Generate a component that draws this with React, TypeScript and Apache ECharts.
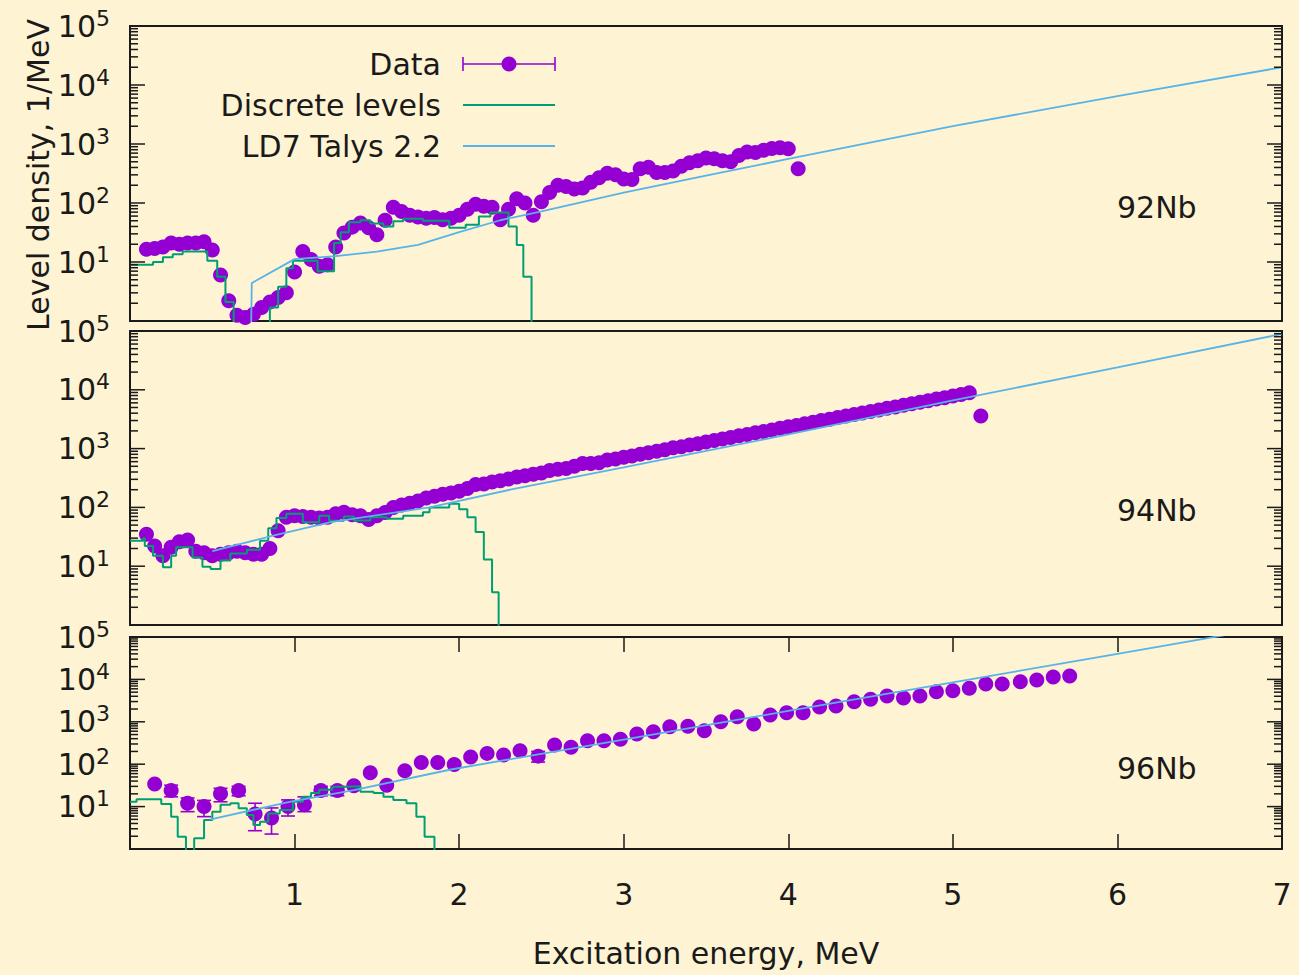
import React, { useEffect, useRef } from 'react';
import * as echarts from 'echarts';

// ---------- 92Nb ----------
const e92 = [0.10,0.15,0.20,0.25,0.30,0.35,0.40,0.45,0.50,0.55,0.60,0.65,0.70,0.75,0.80,0.85,0.90,0.95,1.00,1.05,1.10,1.15,1.20,1.25,1.30,1.35,1.40,1.45,1.50,1.55,1.60,1.65,1.70,1.75,1.80,1.85,1.90,1.95,2.00,2.05,2.10,2.15,2.20,2.25,2.30,2.35,2.40,2.45,2.50,2.55,2.60,2.65,2.70,2.75,2.80,2.85,2.90,2.95,3.00,3.05,3.10,3.15,3.20,3.25,3.30,3.35,3.40,3.45,3.50,3.55,3.60,3.65,3.70,3.75,3.80,3.85,3.90,3.95,4.00,4.06];
const v92 = [16.5,17,18,21,20,21,21,22,16,6, 2.2,1.25,1.15,1.3,1.7,2.1,2.5,3.0,6.8,15, 11,8.5,9,18,31,39,46,38,29,51, 85,72,62,58,55,57,52,55,62,78, 95,88,85,52,78,118,100,62,105,150, 200,190,172,180,225,268,320,300,255,250, 380,405,330,330,350,420,480,520,580,560, 520,500,640,730,720,780,840,860,830,380];
const g92E = [0,0.14,0.20,0.26,0.32,0.47,0.53,0.58,0.63,0.85,0.90,0.95,0.99,1.14,1.24,1.28,1.33,1.40,1.46,1.54,1.60,1.66,1.78,1.94,2.04,2.12,2.19,2.30,2.35,2.39,2.44];
const g92V = [9,10,12,13.5,15,10.5,5.6,2.1,0.5,1.7,3.8,7.8,10.5,7,21,32,47,51,45,40,49,54,50,38,43,59,69,40,19.5,5.6,0.5];
const b92E = [0.735,0.74,1.0,1.25,1.5,1.75,2.0,2.25,2.5,3.0,3.5,4.0,5.0,6.0,7.0];
const b92V = [0.5,4.4,11.2,12.6,15,19.5,32,51,72,150,290,560,2000,6500,20000];

// ---------- 94Nb ----------
const e94 = [0.10,0.15,0.20,0.25,0.30,0.35,0.40,0.45,0.50,0.55,0.60,0.65,0.70,0.75,0.80,0.85,0.90,0.95,1.00,1.05,1.10,1.15,1.20,1.25,1.30,1.35,1.40,1.45,1.50,1.55,1.60,1.65,1.70,1.75,1.80,1.85,1.90,1.95,2.00,2.05,2.10,2.15,2.20,2.25,2.30,2.35,2.40,2.45,2.50,2.55,2.60,2.65,2.70,2.75,2.80,2.85,2.90,2.95,3.00,3.05,3.10,3.15,3.20,3.25,3.30,3.35,3.40,3.45,3.50,3.55,3.60,3.65,3.70,3.75,3.80,3.85,3.90,3.95,4.00,4.05,4.10,4.15,4.20,4.25,4.30,4.35,4.40,4.45,4.50,4.55,4.60,4.65,4.70,4.75,4.80,4.85,4.90,4.95,5.00,5.05,5.10,5.17];
const v94 = [35,22,15,21,26,28,18,17,15,16, 17,18,17,16,16,20,40,68,72,70, 68,66,68,78,83,75,72,62,72,82, 100,110,118,128,145,155,168,175,188,210, 245,250,270,285,305,330,345,365,385,425, 445,460,500,560,560,575,640,665,715,745, 800,850,900,960,1030,1070,1150,1210,1300,1370, 1460,1540,1650,1730,1860,1960,2080,2210,2350,2480, 2650,2810,3000,3170,3380,3580,3800,4030,4280,4540, 4850,5120,5450,5780,6150,6500,6950,7350,7850,8300, 8900,3600];
const g94E = [0,0.08,0.09,0.14,0.20,0.25,0.28,0.38,0.44,0.49,0.55,0.61,0.71,0.79,0.84,0.89,0.95,1.05,1.15,1.21,1.30,1.36,1.46,1.56,1.66,1.78,1.82,1.94,2.00,2.05,2.10,2.15,2.20,2.24];
const g94V = [27,30,22,15,9.6,15,21,14,9.8,9,12.5,16.5,19,27,44,66,78,56,72,59,70,60,68,64,72,83,100,115,93,68,38,13,3.6,0.5];
const b94E = [0.5,0.85,1.22,1.82,2.31,3.0,4.0,5.0,6.0,7.0];
const b94V = [18,32,56,100,200,480,1740,6600,24000,89000];

// ---------- 96Nb ----------
const e96 = [0.15,0.25,0.35,0.45,0.55,0.66,0.76,0.86,0.96,1.06, 1.16,1.26,1.36,1.46,1.56,1.67,1.77,1.87,1.97,2.07, 2.17,2.27,2.37,2.48,2.58,2.68,2.78,2.88,2.98,3.08, 3.18,3.28,3.39,3.49,3.59,3.69,3.79,3.89,3.99,4.09, 4.19,4.29,4.40,4.50,4.60,4.70,4.80,4.90,5.00,5.10, 5.20,5.30,5.41,5.51,5.61,5.71];
const v96 = [34,24,12,10,20,24,6.7,5.4,10,11, 24,24,31,63,32,70,109,109,98,148, 180,165,209,155,282,250,357,357,390,515, 585,765,790,615,1000,1310,890,1450,1630,1630, 2240,2350,2960,3400,4070,3640,4070,5130,5400,6200, 7800,7800,8850,9700,11400,12000];
const errE96 = [0.25,0.35,0.45,0.55,0.66,0.76,0.86,0.96,1.06,1.16,1.26,2.48];
const errLo96 = [17,7.6,5.8,13,18,2.7,2.25,6,7.6,18,18,112];
const errHi96 = [32,16,14,27,30,12,9.3,14.4,17,30,30,200];
const g96E = [0,0.04,0.19,0.25,0.29,0.34,0.39,0.45,0.50,0.55,0.61,0.66,0.71,0.75,0.79,0.84,0.91,0.99,1.05,1.10,1.15,1.23,1.31,1.40,1.48,1.54,1.60,1.68,1.74,1.79,1.85];
const g96V = [13,15,11.5,5.8,1.95,0.5,1.8,4.8,7.6,11,12,9.1,6.3,3.7,4.4,6.9,8.3,13,17,21,25,29.5,30,22.5,21,17,14.4,12,5.8,1.95,0.5];
const b96E = [0.49,0.97,1.36,1.95,3.0,4.0,5.0,6.0,7.0];
const b96V = [5,13,24.5,75,380,1800,8500,40000,190000];

// ---------- axes ----------
const xTickLabels = ['', '1', '2', '3', '4', '5', '6', '7'];
const majorTicks = [10, 100, 1000, 10000];
const mantissas = [2, 3, 4, 5, 6, 7, 8, 9];
const decades = [1, 10, 100, 1000, 10000];
const panelNames = ['92Nb', '94Nb', '96Nb'];

const FONT = '"DejaVu Sans", Verdana, sans-serif';
const BG = '#fef3d2';
const INK = '#1a1a1a';
const PURPLE = '#9400d3';
const GREEN = '#009e73';
const BLUE = '#56b4e9';

const pairs = (xs: number[], ys: number[]) => xs.map((x, i) => [x, ys[i]]);

export default function App() {
  const ref = useRef<HTMLDivElement>(null);
  useEffect(() => {
    document.body.style.margin = '0';
    const chart = echarts.init(ref.current as HTMLDivElement, null, { renderer: 'svg' });

    const grids = [
      { left: 130, top: 26, width: 1152, height: 295 },
      { left: 130, top: 331, width: 1152, height: 294 },
      { left: 130, top: 637, width: 1152, height: 212 },
    ].map((g) => ({ ...g, show: true, borderColor: INK, borderWidth: 2, backgroundColor: 'transparent', containLabel: false }));

    const allTicks: number[] = [];
    decades.forEach((d) => mantissas.forEach((m) => allTicks.push(m * d)));
    majorTicks.forEach((t) => allTicks.push(t));

    const yAxes = [0, 1, 2].map((i) => ({
      gridIndex: i,
      type: 'log',
      logBase: 10,
      min: 1,
      max: 100000,
      splitNumber: 5,
      axisLine: { show: false },
      axisTick: { show: false },
      splitLine: { show: false },
      minorTick: { show: false },
      axisLabel: {
        margin: 20,
        formatter: (v: number) => {
          const n = Math.round(Math.log10(v));
          return n === 0 ? '' : `{a|10}{b|${n}}`;
        },
        rich: {
          a: { fontFamily: FONT, fontSize: 30, color: INK, lineHeight: 38 },
          b: { fontFamily: FONT, fontSize: 22, color: INK, lineHeight: 22, verticalAlign: 'top' },
        },
      },
    }));

    const hiddenX = (i: number) => ({
      gridIndex: i, type: 'value', min: 0, max: 7, interval: 1,
      axisLine: { show: false }, axisTick: { show: false }, axisLabel: { show: false }, splitLine: { show: false },
    });

    const xAxes = [
      hiddenX(0),
      hiddenX(1),
      {
        gridIndex: 2, type: 'value', min: 0, max: 7, interval: 1, position: 'bottom',
        axisLine: { show: false }, splitLine: { show: false },
        axisTick: { show: true, inside: true, length: 15, lineStyle: { color: INK, width: 1.5 } },
        axisLabel: {
          margin: 30, fontFamily: FONT, fontSize: 30, color: INK,
          formatter: (v: number) => xTickLabels[Math.round(v)] ?? '',
        },
      },
      {
        gridIndex: 2, type: 'value', min: 0, max: 7, interval: 1, position: 'top',
        axisLine: { show: false }, splitLine: { show: false }, axisLabel: { show: false },
        axisTick: { show: true, inside: true, length: 15, lineStyle: { color: INK, width: 1.5 } },
      },
    ];

    const tickSeries = (i: number) => ({
      type: 'custom',
      xAxisIndex: i,
      yAxisIndex: i,
      silent: true,
      z: 10,
      clip: false,
      data: allTicks.map((v) => [0, v]),
      renderItem: (params: any, api: any) => {
        const v = api.value(1);
        const p = api.coord([0, v]);
        const cs = params.coordSys;
        const len = majorTicks.includes(v) ? 15 : 8;
        const st = { stroke: INK, lineWidth: 1.5 };
        return {
          type: 'group',
          children: [
            { type: 'line', shape: { x1: cs.x, y1: p[1], x2: cs.x + len, y2: p[1] }, style: st },
            { type: 'line', shape: { x1: cs.x + cs.width, y1: p[1], x2: cs.x + cs.width - len, y2: p[1] }, style: st },
          ],
        };
      },
    });

    const panelData = [
      { e: e92, v: v92, gE: g92E, gV: g92V, bE: b92E, bV: b92V },
      { e: e94, v: v94, gE: g94E, gV: g94V, bE: b94E, bV: b94V },
      { e: e96, v: v96, gE: g96E, gV: g96V, bE: b96E, bV: b96V },
    ];

    const series: any[] = [];
    panelData.forEach((p, i) => {
      series.push({
        type: 'scatter', xAxisIndex: i, yAxisIndex: i, data: pairs(p.e, p.v),
        symbol: 'circle', symbolSize: 15, itemStyle: { color: PURPLE, opacity: 1 }, z: 2, silent: true,
      });
      series.push({
        type: 'line', xAxisIndex: i, yAxisIndex: i, data: pairs(p.gE, p.gV), step: 'end',
        showSymbol: false, symbol: 'none', lineStyle: { color: GREEN, width: 2 }, z: 3, silent: true, clip: true,
      });
      series.push({
        type: 'line', xAxisIndex: i, yAxisIndex: i, data: pairs(p.bE, p.bV),
        showSymbol: false, symbol: 'none', lineStyle: { color: BLUE, width: 1.8 }, z: 4, silent: true, clip: true,
      });
      series.push(tickSeries(i));
    });

    series.push({
      type: 'custom', xAxisIndex: 2, yAxisIndex: 2, silent: true, z: 2,
      data: errE96.map((x, k) => [x, errLo96[k], errHi96[k]]),
      renderItem: (params: any, api: any) => {
        const x = api.value(0);
        const lo = api.coord([x, api.value(1)]);
        const hi = api.coord([x, api.value(2)]);
        const st = { stroke: PURPLE, lineWidth: 1.6 };
        return {
          type: 'group',
          children: [
            { type: 'line', shape: { x1: lo[0], y1: lo[1], x2: hi[0], y2: hi[1] }, style: st },
            { type: 'line', shape: { x1: lo[0] - 7, y1: lo[1], x2: lo[0] + 7, y2: lo[1] }, style: st },
            { type: 'line', shape: { x1: hi[0] - 7, y1: hi[1], x2: hi[0] + 7, y2: hi[1] }, style: st },
          ],
        };
      },
    });

    const txt = (text: string, x: number, y: number, align: string, extra: any = {}) => ({
      type: 'text', x, y, z: 20, silent: true,
      style: { text, fontFamily: FONT, fontSize: 30, fill: INK, align, verticalAlign: 'middle' },
      ...extra,
    });

    const graphic: any[] = [
      txt('Data', 441, 64, 'right'),
      txt('Discrete levels', 441, 105, 'right'),
      txt('LD7 Talys 2.2', 441, 146, 'right'),
      { type: 'line', z: 20, shape: { x1: 463, y1: 64, x2: 555, y2: 64 }, style: { stroke: PURPLE, lineWidth: 1.6 } },
      { type: 'line', z: 20, shape: { x1: 463, y1: 57, x2: 463, y2: 71 }, style: { stroke: PURPLE, lineWidth: 1.6 } },
      { type: 'line', z: 20, shape: { x1: 555, y1: 57, x2: 555, y2: 71 }, style: { stroke: PURPLE, lineWidth: 1.6 } },
      { type: 'circle', z: 20, shape: { cx: 509, cy: 64, r: 7.5 }, style: { fill: PURPLE } },
      { type: 'line', z: 20, shape: { x1: 463, y1: 105, x2: 555, y2: 105 }, style: { stroke: GREEN, lineWidth: 2 } },
      { type: 'line', z: 20, shape: { x1: 463, y1: 146, x2: 555, y2: 146 }, style: { stroke: BLUE, lineWidth: 1.8 } },
      txt(panelNames[0], 1117, 207, 'left'),
      txt(panelNames[1], 1117, 510, 'left'),
      txt(panelNames[2], 1117, 768, 'left'),
      txt('Excitation energy, MeV', 706, 953, 'center'),
      txt('Level density, 1/MeV', 38, 175, 'center', { rotation: Math.PI / 2 }),
    ];

    chart.setOption({
      animation: false,
      backgroundColor: BG,
      grid: grids,
      xAxis: xAxes,
      yAxis: yAxes,
      series,
      graphic,
    });
    return () => chart.dispose();
  }, []);
  return <div ref={ref} style={{ position: 'absolute', left: 0, top: 0, width: 1299, height: 975 }} />;
}
